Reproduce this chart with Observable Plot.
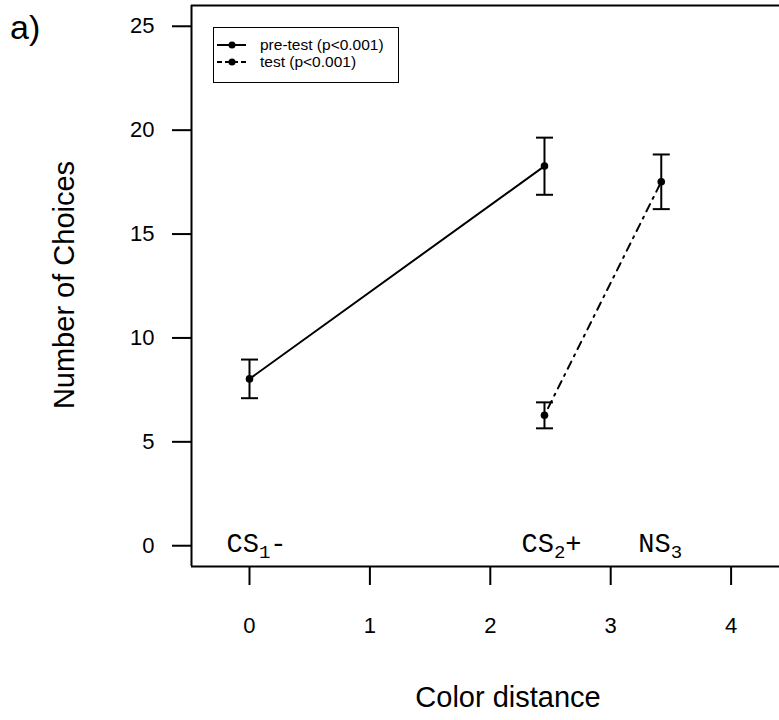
<!DOCTYPE html>
<html>
<head>
<meta charset="utf-8">
<script src="https://cdn.jsdelivr.net/npm/d3@7"></script>
<script src="https://cdn.jsdelivr.net/npm/@observablehq/plot@0.6"></script>
<style>
  html, body { margin: 0; padding: 0; background: #fff; overflow: hidden; }
  #wrap { position: relative; width: 779px; height: 720px; font-family: "Liberation Sans", Arial, Helvetica, sans-serif; }
  #panel { position: absolute; left: 10px; top: 10px; font-size: 34px; line-height: 1; }
  #ytitle { position: absolute; left: 64px; top: 285px; font-size: 29px; white-space: nowrap; transform: translate(-50%, -50%) rotate(-90deg); }
  #xtitle { position: absolute; left: 508px; top: 697px; font-size: 29px; white-space: nowrap; transform: translate(-50%, -50%); }
  #legend { position: absolute; left: 213px; top: 27px; width: 184px; height: 54px; border: 1.5px solid #000; background: #fff; }
  #legend svg { position: absolute; left: 0; top: 0; }
  #plot svg { max-width: none; }
</style>
</head>
<body>
<div id="wrap">
  <div id="plot"></div>
  <div id="panel">a)</div>
  <div id="ytitle">Number of Choices</div>
  <div id="xtitle">Color distance</div>
  <div id="legend"></div>
</div>
<script>
// ---- data ----
const xTicks = [0, 1, 2, 3, 4];
const yTicks = [0, 5, 10, 15, 20, 25];
const xDomain = [-0.4817, 4.402];
const yDomain = [-1, 26];

const preX  = [0, 2.45];
const preY  = [8.03, 18.27];
const preLo = [7.10, 16.89];
const preHi = [8.96, 19.64];

const testX  = [2.45, 3.42];
const testY  = [6.28, 17.52];
const testLo = [5.65, 16.20];
const testHi = [6.90, 18.83];

const stimX      = [0, 2.45, 3.42];
const stimMain   = ["CS", "CS", "NS"];
const stimSub    = ["1", "2", "3"];
const stimSuffix = ["-", "+", ""];

const legendLabels = ["pre-test (p<0.001)", "test (p<0.001)"];

// ---- tables ----
const pre  = preX.map((x, i) => ({x, y: preY[i], lo: preLo[i], hi: preHi[i]}));
const test = testX.map((x, i) => ({x, y: testY[i], lo: testLo[i], hi: testHi[i]}));
const all = pre.concat(test);
const stim = stimX.map((x, i) => ({x, main: stimMain[i], sub: stimSub[i], suf: stimSuffix[i]}));

const cap = { draw(ctx) { ctx.moveTo(-8.5, 0); ctx.lineTo(8.5, 0); } };
const dashTest = "2,6,8,6";

const chart = Plot.plot({
  width: 779,
  height: 720,
  marginLeft: 191,
  marginRight: 0,
  marginTop: 5,
  marginBottom: 154,
  style: {fontFamily: '"Liberation Sans", Arial, Helvetica, sans-serif', fontSize: "22px", background: "transparent"},
  x: {domain: xDomain},
  y: {domain: yDomain},
  marks: [
    Plot.ruleY([yDomain[0], yDomain[1]], {stroke: "#000", strokeWidth: 2}),
    Plot.ruleX([xDomain[0]], {stroke: "#000", strokeWidth: 2}),
    Plot.axisY(yTicks, {tickSize: 19, tickPadding: 18, fontSize: 22, strokeWidth: 2, label: null, color: "#000", tickFormat: d => String(d)}),
    Plot.axisX(xTicks, {tickSize: 19, tickPadding: 32, fontSize: 22, strokeWidth: 2, label: null, color: "#000", tickFormat: d => String(d)}),
    Plot.line(pre, {x: "x", y: "y", stroke: "#000", strokeWidth: 2}),
    Plot.line(test, {x: "x", y: "y", stroke: "#000", strokeWidth: 2, strokeDasharray: dashTest}),
    Plot.link(all, {x1: "x", x2: "x", y1: "lo", y2: "hi", stroke: "#000", strokeWidth: 2}),
    Plot.dot(all, {x: "x", y: "lo", symbol: cap, r: 5, stroke: "#000", strokeWidth: 2, fill: "none"}),
    Plot.dot(all, {x: "x", y: "hi", symbol: cap, r: 5, stroke: "#000", strokeWidth: 2, fill: "none"}),
    Plot.dot(all, {x: "x", y: "y", r: 3.8, fill: "#000", stroke: "none"}),
    Plot.text(stim, {x: "x", y: () => 0, text: d => d.main + d.sub + d.suf, className: "stim",
      fontFamily: '"Liberation Mono", "Courier New", monospace', fontSize: 27, fill: "#000",
      textAnchor: "start", lineAnchor: "middle", dx: -23, dy: -2})
  ]
});
document.getElementById("plot").appendChild(chart);

// subscripts for stimulus labels
const NS = "http://www.w3.org/2000/svg";
chart.querySelectorAll('.stim text').forEach((t, i) => {
  const d = stim[i];
  while (t.firstChild) t.removeChild(t.firstChild);
  const a = document.createElementNS(NS, "tspan"); a.textContent = d.main; t.appendChild(a);
  const b = document.createElementNS(NS, "tspan"); b.textContent = d.sub; b.setAttribute("font-size", "19"); b.setAttribute("dy", "6"); t.appendChild(b);
  if (d.suf) {
    const c = document.createElementNS(NS, "tspan"); c.textContent = d.suf; c.setAttribute("dy", "-6"); t.appendChild(c);
  }
});

// legend
const leg = document.getElementById("legend");
const svg = document.createElementNS(NS, "svg");
svg.setAttribute("width", 184); svg.setAttribute("height", 54);
legendLabels.forEach((lab, i) => {
  const cy = 17 + i * 17;
  const l = document.createElementNS(NS, "line");
  l.setAttribute("x1", 3); l.setAttribute("x2", 32); l.setAttribute("y1", cy); l.setAttribute("y2", cy);
  l.setAttribute("stroke", "#000"); l.setAttribute("stroke-width", 2);
  if (i === 1) l.setAttribute("stroke-dasharray", "5,3");
  svg.appendChild(l);
  const c = document.createElementNS(NS, "circle");
  c.setAttribute("cx", 18); c.setAttribute("cy", cy); c.setAttribute("r", 3.5); c.setAttribute("fill", "#000");
  svg.appendChild(c);
  const t = document.createElementNS(NS, "text");
  t.setAttribute("x", 46); t.setAttribute("y", cy); t.setAttribute("dy", "0.35em");
  t.setAttribute("font-size", 15.5); t.setAttribute("font-family", '"Liberation Sans", Arial, sans-serif');
  t.textContent = lab;
  svg.appendChild(t);
});
leg.appendChild(svg);
</script>
</body>
</html>
